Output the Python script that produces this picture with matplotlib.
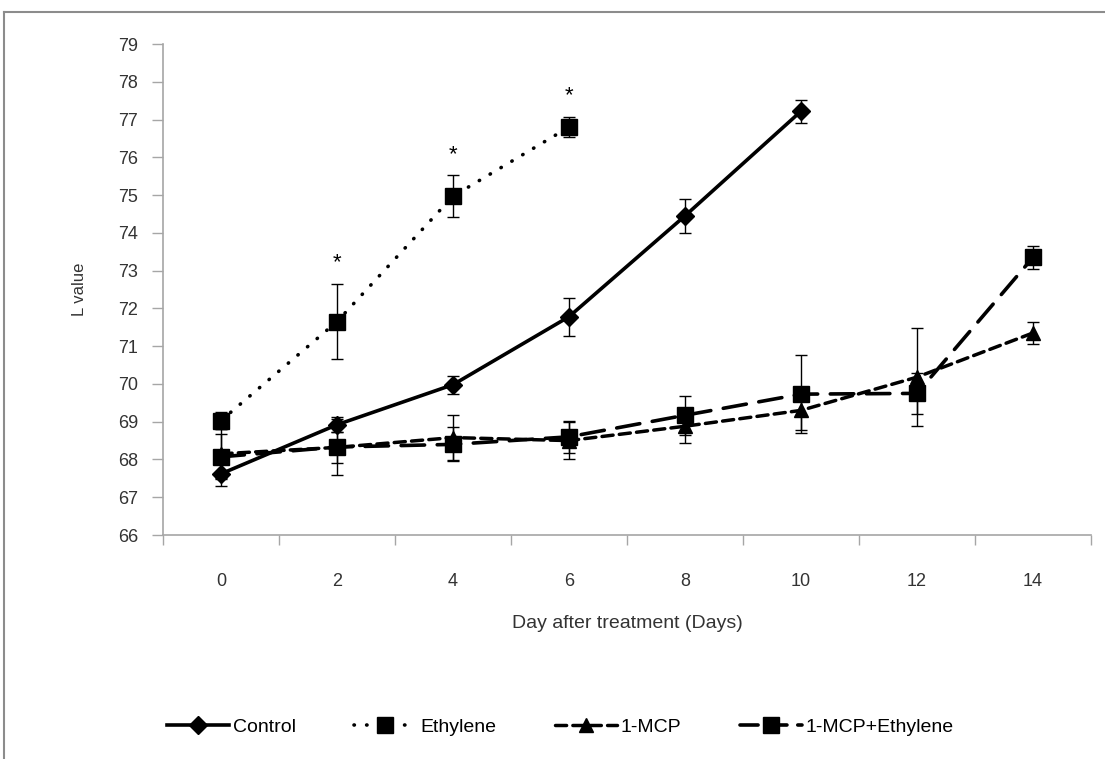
import matplotlib.pyplot as plt
from matplotlib.lines import Line2D

plt.rcParams['font.family'] = ['Liberation Sans', 'DejaVu Sans']

# data
days = [0, 2, 4, 6, 8, 10, 12, 14]

control = [67.62, 68.92, 69.98, 71.78, 74.45, 77.22]
control_err = [0.33, 0.2, 0.24, 0.5, 0.45, 0.3]

ethylene = [69.03, 71.65, 74.97, 76.8]
ethylene_err = [0.23, 1.0, 0.55, 0.27]

mcp = [68.15, 68.32, 68.58, 68.5, 68.88, 69.3, 70.18, 71.35]
mcp_err = [0.65, 0.4, 0.6, 0.5, 0.45, 0.52, 1.3, 0.28]

mcp_eth = [68.07, 68.33, 68.4, 68.6, 69.17, 69.73, 69.75, 73.35]
mcp_eth_err = [0.6, 0.75, 0.45, 0.42, 0.52, 1.03, 0.55, 0.3]

star_days = [1, 2, 3]  # index of days marked with *

fig = plt.figure(figsize=(11.05, 7.59), dpi=100)
ax = fig.add_axes([0.1475, 0.2951, 0.8398, 0.6469])

gray = '#a6a6a6'
handles = []

def series(vals, errs, label, ls, marker, ms, lw, leg_ls=None):
    xs = list(range(len(vals)))
    ax.errorbar(xs, vals, yerr=errs, fmt='none', ecolor='black',
                elinewidth=1, capsize=4, capthick=1, zorder=2)
    ax.plot(xs, vals, color='black', ls=ls, lw=lw, marker=marker, ms=ms,
            dash_capstyle='round', solid_capstyle='butt', zorder=3)
    handles.append(Line2D([], [], color='black', ls=leg_ls or ls, lw=lw,
                          marker=marker, ms=ms, dash_capstyle='round',
                          label=label))

series(control, control_err, 'Control', '-', 'D', 9.5, 2.6)
series(ethylene, ethylene_err, 'Ethylene', (0, (0.1, 3.4)), 's', 11, 2.6)
series(mcp, mcp_err, '1-MCP', (0, (3.2, 1.8)), '^', 10, 2.5)
series(mcp_eth, mcp_eth_err, '1-MCP+Ethylene', (0, (6.5, 3.5)), 's', 12, 2.6,
       leg_ls=(0, (5, 3)))

for i in star_days:
    ax.text(i, ethylene[i] + ethylene_err[i] + 0.55, '*', ha='center',
            va='center', fontsize=16, color='black')

ax.set_xlim(-0.5, len(days) - 0.5)
ax.set_ylim(66, 79)
ax.set_yticks(range(66, 80))
ax.set_xticks([i - 0.5 for i in range(len(days) + 1)])
ax.set_xticklabels([])
ax.set_xticks(range(len(days)), minor=True)
ax.set_xticklabels([str(d) for d in days], minor=True)

for s in ['top', 'right']:
    ax.spines[s].set_visible(False)
for s in ['left', 'bottom']:
    ax.spines[s].set_color(gray)
    ax.spines[s].set_linewidth(1.2)

ax.tick_params(axis='y', direction='out', length=8, color=gray, width=1,
               labelsize=13, labelcolor='#333333', pad=10)
ax.tick_params(axis='x', which='major', direction='out', length=7,
               color=gray, width=1)
ax.tick_params(axis='x', which='minor', length=0, labelsize=13,
               labelcolor='#333333', pad=27)

ax.set_ylabel('L value', fontsize=12, color='#333333', labelpad=22)
ax.set_xlabel('Day after treatment (Days)', fontsize=14, color='#333333',
              labelpad=18)

fig.legend(handles=handles, loc='center', bbox_to_anchor=(0.507, 0.042),
           ncol=4, frameon=False, fontsize=14, handlelength=3.2,
           columnspacing=3.0, handletextpad=0.2)

# outer chart frame (top & left visible)
fig.add_artist(Line2D([0.0036, 0.0036], [0, 0.984], color='#8c8c8c', lw=1.5,
                      transform=fig.transFigure))
fig.add_artist(Line2D([0.0036, 1], [0.984, 0.984], color='#8c8c8c', lw=1.5,
                      transform=fig.transFigure))

fig.savefig('out.png', dpi=100)
